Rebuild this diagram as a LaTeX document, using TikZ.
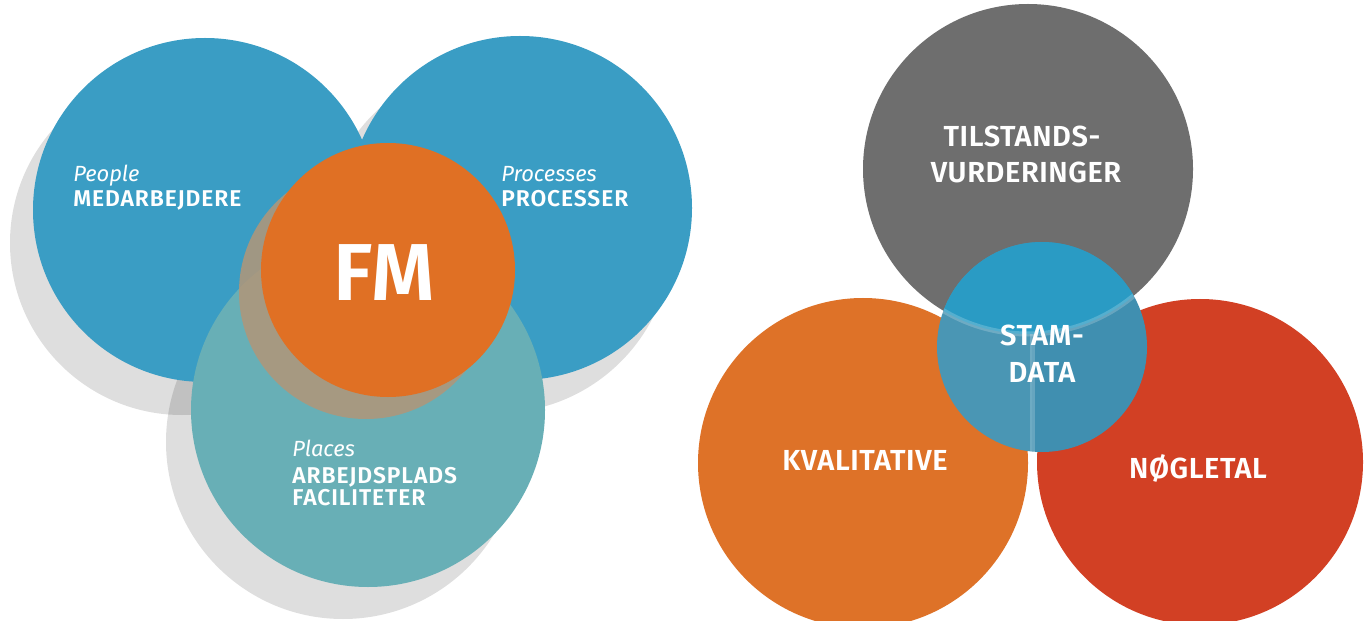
\documentclass[tikz,border=0pt]{standalone}
\usepackage{fontspec}
\setmainfont{Fira Sans}[BoldFont={Fira Sans SemiBold}]

\definecolor{fmblue}{RGB}{58,157,196}
\definecolor{fmteal}{RGB}{104,175,182}
\definecolor{fmorange}{RGB}{224,112,36}
\definecolor{fmshade}{RGB}{178,150,120}
\definecolor{tsgray}{RGB}{110,110,110}
\definecolor{kvorange}{RGB}{222,114,40}
\definecolor{ngred}{RGB}{210,64,36}
\definecolor{stamtop}{RGB}{42,155,196}
\definecolor{stamleft}{RGB}{74,150,180}
\definecolor{stamright}{RGB}{64,143,176}

\newcommand{\px}{0.02cm}

\tikzset{
    castshadow/.style = {fill=black, fill opacity=0.13},
    tagtext/.style    = {text=white, inner sep=0pt, anchor=base west,
                         font=\fontsize{12.5}{15}\selectfont\itshape},
    lefttext/.style   = {text=white, inner sep=0pt, anchor=base west,
                         font=\fontsize{13}{15}\selectfont\bfseries\addfontfeature{LetterSpace=4}},
    righttext/.style  = {text=white, inner sep=0pt, anchor=base,
                         font=\fontsize{16.5}{18}\selectfont\bfseries\addfontfeature{LetterSpace=2}}
}

\begin{document}
\begin{tikzpicture}[x=0.02cm, y=-0.02cm]
    \useasboundingbox (0,0) rectangle (1368,621);
    \fill[white] (0,0) rectangle (1368,621);

    % left: people, processes, places
    \fill[castshadow] (182,243) circle [radius=172*\px];
    \fill[castshadow] (497,238) circle [radius=175*\px];
    \fill[castshadow] (343,442) circle [radius=177*\px];
    \fill[fmblue] (205,210) circle [radius=172*\px];
    \fill[fmblue] (520,208) circle [radius=172*\px];
    \fill[fmteal] (368,410) circle [radius=177*\px];
    \fill[fmshade, fill opacity=0.85] (366,292) circle [radius=127*\px];
    \fill[fmorange] (388,270) circle [radius=127*\px];

    \node[tagtext]  (people)   at (73,182)  {People};
    \node[lefttext] (medarb)   at (73,207)  {MEDARBEJDERE};
    \node[tagtext]  (process)  at (501,182) {Processes};
    \node[lefttext] (procsr)   at (501,207) {PROCESSER};
    \node[tagtext]  (places)   at (292,456) {Places};
    \node[lefttext] (arbejd)   at (292,483) {ARBEJDSPLADS};
    \node[lefttext] (facil)    at (292,505) {FACILITETER};
    \node[text=white, inner sep=0pt, anchor=base,
          font=\fontsize{46}{50}\selectfont\bfseries] (fm) at (384,300) {FM};

    % right: tilstand, kvalitative, noegletal, stamdata
    \fill[tsgray]   (1028,169) circle [radius=165*\px];
    \fill[kvorange] (863,463)  circle [radius=165*\px];
    \fill[ngred]    (1200,462) circle [radius=163*\px];
    \begin{scope}
        \clip (1042,347) circle [radius=105*\px];
        \fill[stamleft]  (900,200) rectangle (1032,480);
        \fill[stamright] (1032,200) rectangle (1180,480);
        \fill[stamtop] (1028,169) circle [radius=165*\px];
        \draw[white, opacity=0.2, line width=5*\px] (1028,169) circle [radius=165*\px];
        \draw[white, opacity=0.2, line width=5*\px] (1032,334) -- (1032,480);
    \end{scope}

    \node[righttext] (tilst)  at (1022,147) {TILSTANDS-};
    \node[righttext] (vurd)   at (1026,183) {VURDERINGER};
    \node[righttext] (stam)   at (1042,345) {STAM-};
    \node[righttext] (data)   at (1042,382) {DATA};
    \node[righttext] (kval)   at (865,470)  {KVALITATIVE};
    \node[righttext] (noegle) at (1198,478) {NØGLETAL};
\end{tikzpicture}
\end{document}
